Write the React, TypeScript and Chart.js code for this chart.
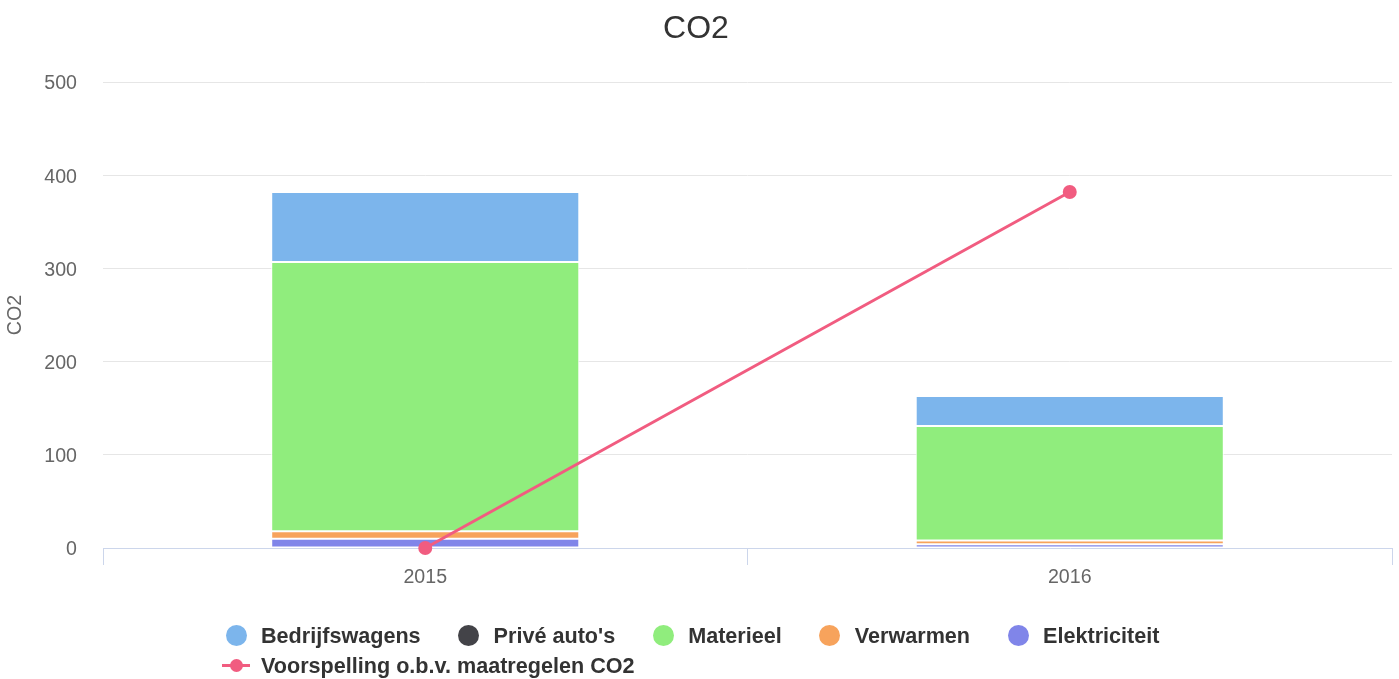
import React, { useEffect, useRef } from "react";
import { Chart, registerables } from "chart.js";

Chart.register(...registerables);

const categories = ["2015", "2016"];
const bedrijfswagens = [75, 32];
const priveAutos = [0, 0];
const materieel = [289, 123];
const verwarmen = [8, 4];
const elektriciteit = [10, 4];
const voorspelling = [0, 382];

const yMin = 0;
const yMax = 500;
const yStep = 100;

const FONT = '"Liberation Sans", Arial, Helvetica, sans-serif';

const legendItems = [
  { label: "Bedrijfswagens", color: "#7cb5ec", kind: "circle" },
  { label: "Privé auto's", color: "#434348", kind: "circle" },
  { label: "Materieel", color: "#90ed7d", kind: "circle" },
  { label: "Verwarmen", color: "#f7a35c", kind: "circle" },
  { label: "Elektriciteit", color: "#8085e9", kind: "circle" },
  { label: "Voorspelling o.b.v. maatregelen CO2", color: "#f15c80", kind: "line" },
];

export default function App() {
  const ref = useRef<HTMLCanvasElement | null>(null);

  useEffect(() => {
    document.body.style.margin = "0";
    const canvas = ref.current;
    if (!canvas) return;
    const bar = (label: string, data: number[], color: string) => ({
      type: "bar" as const,
      label,
      data,
      backgroundColor: color,
      borderColor: "#ffffff",
      borderWidth: 1,
      borderSkipped: false,
      order: 1,
      stack: "bars",
    });
    const chart = new Chart(canvas, {
      type: "bar",
      data: {
        labels: categories,
        datasets: [
          {
            type: "line" as const,
            label: "Voorspelling o.b.v. maatregelen CO2",
            data: voorspelling,
            borderColor: "#f15c80",
            backgroundColor: "#f15c80",
            borderWidth: 3,
            pointRadius: 7,
            pointBorderWidth: 0,
            pointBackgroundColor: "#f15c80",
            order: 0,
            stack: "line",
            clip: false,
          } as any,
          bar("Elektriciteit", elektriciteit, "#8085e9"),
          bar("Verwarmen", verwarmen, "#f7a35c"),
          bar("Materieel", materieel, "#90ed7d"),
          bar("Privé auto's", priveAutos, "#434348"),
          bar("Bedrijfswagens", bedrijfswagens, "#7cb5ec"),
        ],
      },
      options: {
        responsive: false,
        animation: false,
        layout: { padding: { left: 0, right: 7, top: 0, bottom: 86 } },
        datasets: {
          bar: { categoryPercentage: 1, barPercentage: 0.478 },
        },
        plugins: {
          legend: { display: false },
          tooltip: { enabled: false },
          title: {
            display: true,
            text: "CO2",
            color: "#333333",
            font: { family: FONT, size: 32, weight: "normal", lineHeight: 1.2 },
            padding: { top: 10, bottom: 33.6 },
          },
        },
        scales: {
          x: {
            stacked: true,
            offset: true,
            grid: {
              display: true,
              drawOnChartArea: false,
              drawTicks: true,
              tickLength: 17,
              color: "#ccd6eb",
              offset: true,
            },
            border: { display: true, color: "#ccd6eb", width: 1 },
            ticks: { color: "#666666", font: { family: FONT, size: 19.6 }, padding: 1 },
            afterFit: (scale: any) => {
              scale.height = 45;
            },
          },
          y: {
            stacked: true,
            min: yMin,
            max: yMax,
            grid: {
              drawTicks: false,
              color: (ctx: any) =>
                ctx.tick && ctx.tick.value === 0 ? "rgba(0,0,0,0)" : "#e6e6e6",
            },
            border: { display: false },
            ticks: {
              stepSize: yStep,
              color: "#666666",
              font: { family: FONT, size: 19.6 },
              padding: 26,
              labelOffset: 2,
            },
            title: {
              display: true,
              text: "CO2",
              color: "#666666",
              font: { family: FONT, size: 19.6, weight: "normal" },
              padding: { top: 4, bottom: 0 },
            },
            afterFit: (scale: any) => {
              scale.width = 103;
            },
          },
        },
      } as any,
    });
    return () => chart.destroy();
  }, []);

  return (
    <div style={{ position: "relative", width: 1399, height: 679, background: "#ffffff" }}>
      <canvas ref={ref} width={1399} height={679} style={{ display: "block" }} />
      <div
        style={{
          position: "absolute",
          left: 222,
          top: 621,
          width: 1000,
          display: "flex",
          flexWrap: "wrap",
          columnGap: 34,
          rowGap: 0,
          fontFamily: FONT,
          fontWeight: "bold",
          fontSize: 21.6,
          color: "#333333",
        }}
      >
        {legendItems.map((it) => (
          <div key={it.label} style={{ display: "flex", alignItems: "center", height: 29.5 }}>
            <span style={{ position: "relative", width: 28, height: 21, display: "inline-block" }}>
              {it.kind === "circle" ? (
                <span
                  style={{
                    position: "absolute",
                    left: 3.5,
                    top: 0,
                    width: 21,
                    height: 21,
                    borderRadius: "50%",
                    background: it.color,
                  }}
                />
              ) : (
                <>
                  <span
                    style={{
                      position: "absolute",
                      left: 0,
                      top: 9.25,
                      width: 28,
                      height: 2.5,
                      background: it.color,
                    }}
                  />
                  <span
                    style={{
                      position: "absolute",
                      left: 7.5,
                      top: 4.5,
                      width: 13,
                      height: 13,
                      borderRadius: "50%",
                      background: it.color,
                    }}
                  />
                </>
              )}
            </span>
            <span style={{ marginLeft: 11, whiteSpace: "nowrap", lineHeight: "29.5px" }}>{it.label}</span>
          </div>
        ))}
      </div>
    </div>
  );
}
